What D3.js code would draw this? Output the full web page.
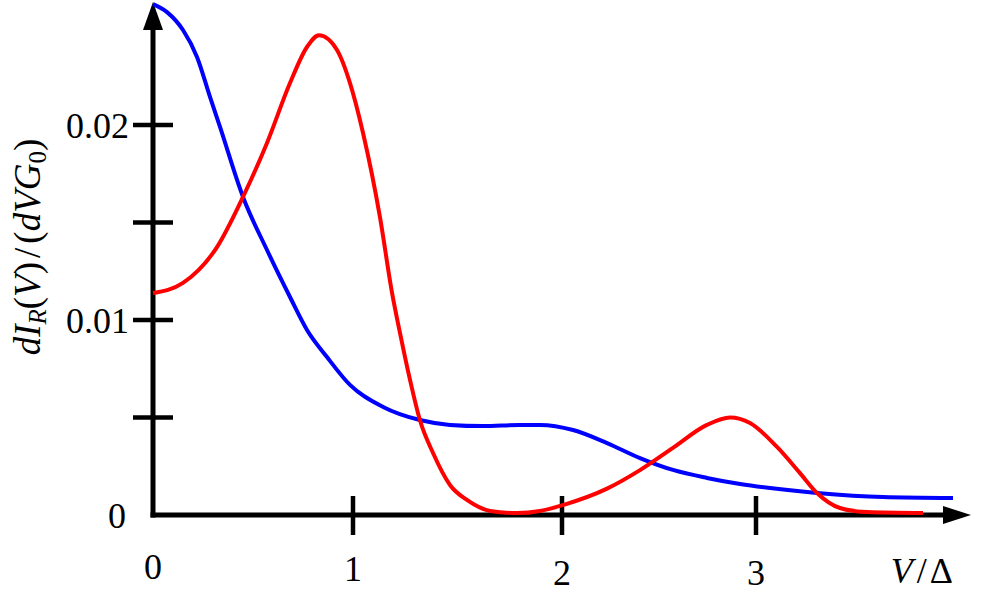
<!DOCTYPE html>
<html>
<head>
<meta charset="utf-8">
<style>
  body { margin: 0; background: #fff; }
  svg text { font-family: 'Liberation Serif', 'Times New Roman', serif; fill: #000; }
</style>
</head>
<body>
<svg width="998" height="594"></svg>
<script src="https://d3js.org/d3.v7.min.js"></script>
<script>
  // data, values in units of V/Delta and 0.001 * dI/(dV G0)
  var blueX = [0, 0.07, 0.15, 0.22, 0.285, 0.335, 0.45, 0.57, 0.685, 0.77, 0.87, 0.985, 1.144, 1.32, 1.464, 1.622, 1.799, 1.895, 2.057, 2.232, 2.402, 2.572, 2.747, 2.918, 3.07, 3.305, 3.635, 3.985];
  var blueY = [26.2, 25.79, 24.87, 23.49, 21.44, 19.9, 16.31, 13.59, 11.18, 9.49, 8.1, 6.67, 5.54, 4.87, 4.62, 4.56, 4.62, 4.62, 4.36, 3.69, 2.92, 2.31, 1.9, 1.59, 1.38, 1.13, 0.92, 0.87];
  var redX = [0, 0.15, 0.32, 0.45, 0.57, 0.685, 0.77, 0.83, 0.92, 0.985, 1.048, 1.129, 1.187, 1.225, 1.273, 1.32, 1.383, 1.464, 1.545, 1.656, 1.785, 1.895, 2.005, 2.232, 2.402, 2.572, 2.747, 2.866, 2.969, 3.105, 3.22, 3.305, 3.42, 3.555, 3.835];
  var redY = [11.38, 11.9, 13.74, 16.31, 19.08, 22.15, 24.0, 24.6, 23.85, 22.15, 19.59, 15.28, 11.38, 9.33, 6.92, 4.87, 3.18, 1.54, 0.77, 0.21, 0.1, 0.21, 0.51, 1.35, 2.3, 3.44, 4.62, 5.0, 4.72, 3.49, 2.15, 1.13, 0.36, 0.15, 0.1];
  var xTicks = [1, 2, 3];
  var xTickLabels = ["1", "2", "3"];
  var yTicks = [5, 10, 15, 20];
  var yTickLabels = {10: "0.01", 20: "0.02"};

  var svg = d3.select("svg");

  // tick spacing in the original is not quite even
  var x = d3.scaleLinear().domain([0, 1, 2, 3, 4]).range([153, 353, 562, 756, 956]);
  var y = d3.scaleLinear().domain([0, 20]).range([515, 125]);

  var line = d3.line()
    .x(function(d) { return x(d[0]); })
    .y(function(d) { return y(d[1]); })
    .curve(d3.curveMonotoneX);

  var blue = d3.zip(blueX, blueY);
  var red = d3.zip(redX, redY);

  // axes
  var x0 = x(0), y0 = y(0);
  svg.append("line")
    .attr("x1", x0 - 2.5).attr("x2", 950)
    .attr("y1", y0).attr("y2", y0)
    .attr("stroke", "#000").attr("stroke-width", 5);
  svg.append("line")
    .attr("x1", x0).attr("x2", x0)
    .attr("y1", y0 + 2.5).attr("y2", 20)
    .attr("stroke", "#000").attr("stroke-width", 5);

  // arrow heads
  svg.append("path")
    .attr("d", "M" + (x0 - 10) + ",30 L" + x0 + ",2 L" + (x0 + 10) + ",30 Z")
    .attr("fill", "#000");
  svg.append("path")
    .attr("d", "M943," + (y0 - 9) + " L971," + y0 + " L943," + (y0 + 9) + " Z")
    .attr("fill", "#000");

  svg.selectAll(".xtick").data(xTicks).enter().append("line")
    .attr("class", "xtick")
    .attr("x1", function(d) { return x(d); }).attr("x2", function(d) { return x(d); })
    .attr("y1", y0 - 19).attr("y2", y0 + 20)
    .attr("stroke", "#000").attr("stroke-width", 4.5);

  svg.selectAll(".ytick").data(yTicks).enter().append("line")
    .attr("class", "ytick")
    .attr("x1", x0 - 20).attr("x2", x0 + 20)
    .attr("y1", function(d) { return y(d); }).attr("y2", function(d) { return y(d); })
    .attr("stroke", "#000").attr("stroke-width", 4.5);

  // tick labels
  svg.selectAll(".xlab").data(xTicks).enter().append("text")
    .attr("class", "xlab")
    .attr("x", function(d) { return x(d); })
    .attr("y", function(d) { return d === 1 ? 581 : 585; })
    .attr("text-anchor", "middle")
    .attr("font-size", 36)
    .text(function(d, i) { return xTickLabels[i]; });

  svg.append("text")
    .attr("x", x0).attr("y", 579)
    .attr("text-anchor", "middle").attr("font-size", 36)
    .text("0");

  svg.selectAll(".ylab").data([0].concat(yTicks.filter(function(d) { return yTickLabels[d]; })))
    .enter().append("text")
    .attr("class", "ylab")
    .attr("x", function(d) { return d === 0 ? 126 : 129; })
    .attr("y", function(d) { return y(d) + 12.5; })
    .attr("text-anchor", "end")
    .attr("font-size", 36)
    .text(function(d) { return d === 0 ? "0" : yTickLabels[d]; });

  // curves
  svg.append("path").datum(blue)
    .attr("d", line).attr("fill", "none")
    .attr("stroke", "#0000ff").attr("stroke-width", 4);
  svg.append("path").datum(red)
    .attr("d", line).attr("fill", "none")
    .attr("stroke", "#ff0000").attr("stroke-width", 4);

  // axis titles
  var xt = svg.append("text")
    .attr("x", 953).attr("y", 583)
    .attr("text-anchor", "end").attr("font-size", 36);
  xt.append("tspan").attr("font-style", "italic").text("V");
  xt.append("tspan").attr("dx", 4).text("/");
  xt.append("tspan").attr("dx", 3).text("\u0394");

  var yt = svg.append("text")
    .attr("transform", "translate(40,247) rotate(-90)")
    .attr("text-anchor", "middle").attr("font-size", 37);
  yt.append("tspan").attr("font-style", "italic").text("dI");
  yt.append("tspan").attr("font-style", "italic").attr("font-size", 25).attr("dy", 6).text("R");
  yt.append("tspan").attr("dy", -6).text("(");
  yt.append("tspan").attr("font-style", "italic").text("V");
  yt.append("tspan").text(")");
  yt.append("tspan").attr("dx", 4).text("/");
  yt.append("tspan").attr("dx", 4).text("(");
  yt.append("tspan").attr("font-style", "italic").text("dVG");
  yt.append("tspan").attr("font-size", 25).attr("dy", 6).text("0");
  yt.append("tspan").attr("dy", -6).text(")");
</script>
</body>
</html>
